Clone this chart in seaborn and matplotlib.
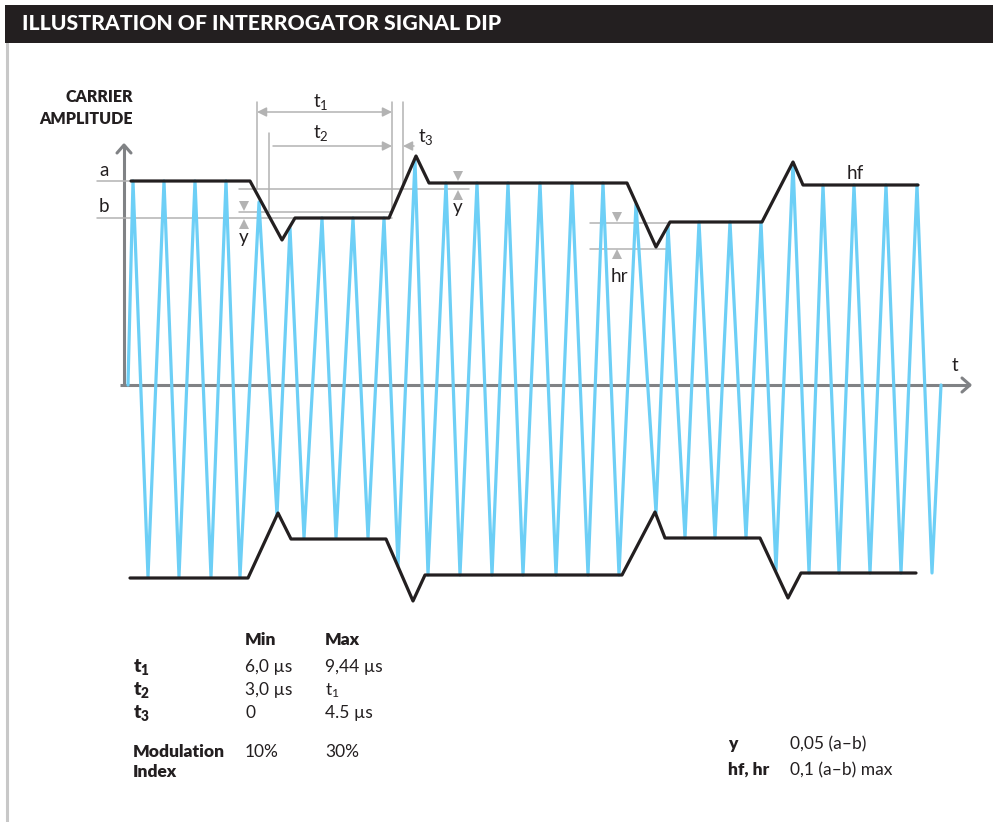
import numpy as np
import pandas as pd
import matplotlib.pyplot as plt
import seaborn as sns
from matplotlib.patches import Rectangle

# ---- carrier signal: time (diagram units) and amplitude at each peak / trough ----
peak_t = [5, 36, 67, 98, 131, 162, 194, 225, 256, 287, 318, 349, 380,
          412, 444, 475, 508, 540, 571, 602, 633, 665, 695, 726, 758, 789]
peak_amp = [204, 204, 204, 204, 183, 157, 167, 167, 167, 225, 202, 202, 202,
            202, 202, 202, 181, 159, 163, 163, 163, 222, 200, 200, 200, 200]
trough_t = [20, 51, 83, 112, 149, 176, 208, 240, 270, 300, 332, 364, 395,
            428, 460, 491, 528, 557, 587, 618, 648, 681, 711, 742, 773, 804]
trough_amp = [-192, -192, -192, -192, -130, -153, -153, -153, -181, -190, -190, -190, -190,
              -190, -190, -190, -128, -153, -153, -153, -185, -188, -188, -188, -188, -188]
start_t, end_t = 0, 813

# ---- envelope (black) ----
env_top_t = [3, 122, 154, 167, 261, 288, 301, 499, 528, 542, 634, 665, 675, 790]
env_top_amp = [204, 204, 145, 167, 167, 229, 202, 202, 138, 163, 163, 223, 200, 200]
env_bot_t = [2, 120, 150, 163, 258, 285, 297, 494, 527, 537, 632, 660, 673, 788]
env_bot_amp = [-193, -193, -128, -154, -154, -216, -190, -190, -127, -153, -153, -213, -188, -188]

# ---- tables ----
tab_rows = ["t_1", "t_2", "t_3"]
tab_min = ["6,0 µs", "3,0 µs", "0"]
tab_max = ["9,44 µs", "$\\mathregular{t_1}$", "4.5 µs"]
mod_min, mod_max = "10%", "30%"
note_keys = ["y", "hf, hr"]
note_vals = ["0,05 (a–b)", "0,1 (a–b) max"]

BLUE = "#6dcff6"
BLACK = "#231f20"
GRAY = "#b3b3b3"
AXGRAY = "#808285"

sns.set_theme(style="white")
plt.rcParams["font.family"] = ["Lato", "DejaVu Sans"]
BOLD = ["Lato", "DejaVu Sans"]

# carrier vertices
ct = [start_t] + [v for pair in zip(peak_t, trough_t) for v in pair] + [end_t]
ca = [0] + [v for pair in zip(peak_amp, trough_amp) for v in pair] + [0]
carrier = pd.DataFrame({"t": ct, "amp": ca})
top = pd.DataFrame({"t": env_top_t, "amp": env_top_amp})
bot = pd.DataFrame({"t": env_bot_t, "amp": env_bot_amp})

fig = plt.figure(figsize=(9.93, 8.22), dpi=100)
ax = fig.add_axes([0, 0, 1, 1])
ax.set_xlim(-128, 865)
ax.set_ylim(-437, 385)
ax.axis("off")

# banner + left border
ax.add_patch(Rectangle((-123, 342), 990, 38, color=BLACK, lw=0, zorder=5))
ax.text(-106, 361, "ILLUSTRATION OF INTERROGATOR SIGNAL DIP", color="white",
        fontsize=15.3, fontweight="black", family=BOLD, va="center", zorder=6)
ax.plot([-121, -121], [342, -437], color="#c8c8c8", lw=2.2)

# axes with chevrons
ax.plot([-4, -4], [0, 240], color=AXGRAY, lw=2.2, zorder=1, solid_capstyle="butt")
ax.plot([-11, -4, 3], [232, 240, 232], color=AXGRAY, lw=2.2, zorder=1)
ax.plot([-8, 842], [0, 0], color=AXGRAY, lw=2.2, zorder=1, solid_capstyle="butt")
ax.plot([834, 842, 834], [7, 0, -7], color=AXGRAY, lw=2.2, zorder=1)

# signal and envelope
sns.lineplot(data=carrier, x="t", y="amp", sort=False, estimator=None,
             color=BLUE, lw=2.3, ax=ax, zorder=2)
sns.lineplot(data=top, x="t", y="amp", sort=False, estimator=None,
             color=BLACK, lw=2.3, ax=ax, zorder=3)
sns.lineplot(data=bot, x="t", y="amp", sort=False, estimator=None,
             color=BLACK, lw=2.3, ax=ax, zorder=3)
ax.set_xlim(-128, 865)
ax.set_ylim(-437, 385)

# helper dimension lines
hlines = [(204, -31, 2), (167, -31, 264), (196, 111, 341), (173, 111, 264),
          (162, 462, 542), (136, 462, 540)]
for a, t0, t1 in hlines:
    ax.plot([t0, t1], [a, a], color=GRAY, lw=1.1, zorder=1.5)
vlines = [(129, 283, 196), (141, 252, 173), (264, 283, 173), (275, 283, 196)]
for t, a0, a1 in vlines:
    ax.plot([t, t], [a0, a1], color=GRAY, lw=1.1, zorder=1.5)

arr = dict(arrowstyle="-|>", color=GRAY, lw=1.1, mutation_scale=14, shrinkA=0, shrinkB=0)
ax.annotate("", xy=(264, 273), xytext=(129, 273),
            arrowprops=dict(arr, arrowstyle="<|-|>"))
ax.annotate("", xy=(264, 239), xytext=(145, 239), arrowprops=arr)
ax.annotate("", xy=(275, 239), xytext=(286, 239), arrowprops=arr)

for t, a, m in [(116, 179, "v"), (116, 161, "^"), (330, 209, "v"), (330, 190, "^"),
                (489, 168, "v"), (489, 131, "^")]:
    ax.plot(t, a, marker=m, color=GRAY, ms=7, mew=0, zorder=4)

lab = dict(fontsize=13.5, color=BLACK)
ax.text(-24, 215, "a", ha="center", va="center", **lab)
ax.text(-24, 178, "b", ha="center", va="center", **lab)
ax.text(185, 278, "$\\mathregular{t_1}$", ha="left", va="baseline", **lab)
ax.text(185, 247, "$\\mathregular{t_2}$", ha="left", va="baseline", **lab)
ax.text(290, 243, "$\\mathregular{t_3}$", ha="left", va="baseline", **lab)
ax.text(116, 142, "y", ha="center", va="baseline", **lab)
ax.text(330, 172, "y", ha="center", va="baseline", **lab)
ax.text(491, 103, "hr", ha="center", va="baseline", **lab)
ax.text(727, 206, "hf", ha="center", va="baseline", **lab)
ax.text(827, 20, "t", ha="center", va="center", **lab)

hdr = dict(fontsize=11.5, fontweight="heavy", color=BLACK, family=BOLD)
ax.text(5, 288, "CARRIER", ha="right", va="center", **hdr)
ax.text(5, 266, "AMPLITUDE", ha="right", va="center", **hdr)

# table of limits
tb = dict(fontsize=12.5, color=BLACK, va="baseline")
ax.text(117, -260, "Min", fontweight="heavy", family=BOLD, **tb)
ax.text(197, -260, "Max", fontweight="heavy", family=BOLD, **tb)
for i, (r, mn, mx) in enumerate(zip(tab_rows, tab_min, tab_max)):
    a = -287 - 23 * i
    ax.text(5, a, "$\\mathregular{%s}$" % r, fontweight="heavy", family=BOLD,
            fontsize=14, color=BLACK, va="baseline")
    ax.text(117, a, mn, **tb)
    ax.text(197, a, mx, **tb)
ax.text(5, -372, "Modulation", fontweight="heavy", family=BOLD, **tb)
ax.text(5, -392, "Index", fontweight="heavy", family=BOLD, **tb)
ax.text(117, -372, mod_min, **tb)
ax.text(197, -372, mod_max, **tb)

for i, (k, v) in enumerate(zip(note_keys, note_vals)):
    a = -364 - 26 * i
    ax.text(600, a, k, fontweight="heavy", family=BOLD, **tb)
    ax.text(662, a, v, **tb)

fig.savefig("out.png", dpi=100)
